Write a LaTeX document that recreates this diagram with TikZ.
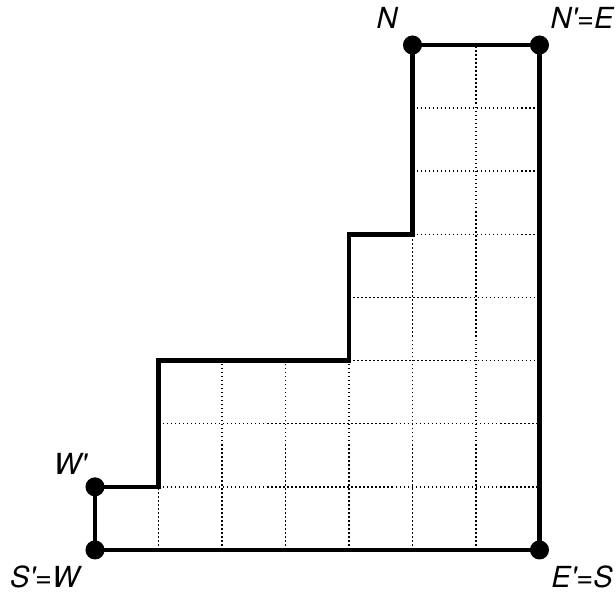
\documentclass[tikz,border=0pt]{standalone}
\usepackage{fontspec}
\setmainfont{TeX Gyre Heros}
\usepackage{tikz}

\begin{document}
\begin{tikzpicture}[
    dot/.style={circle, fill=black, inner sep=0pt, minimum size=0.3cm},
    boundary/.style={line width=2pt, line join=miter},
    cell/.style={dash pattern=on 0.7pt off 1.1pt, line width=0.7pt},
    lbl/.style={font=\fontsize{13}{15}\selectfont\itshape, inner sep=0pt}
]
    \useasboundingbox (-1.496,-0.693) rectangle (8.205,8.661);
    \begin{scope}[x=1.0cm, y=0.994cm]
    % corner points of the staircase
    \coordinate (c1) at (1,1);
    \coordinate (c2) at (1,3);
    \coordinate (c3) at (4,3);
    \coordinate (c4) at (4,5);
    \coordinate (c5) at (5,5);

    % dotted cells
    \draw[cell] (1,1) -- (7,1);
    \draw[cell] (1,2) -- (7,2);
    \draw[cell] (4,3) -- (7,3);
    \draw[cell] (4,4) -- (7,4);
    \draw[cell] (5,5) -- (7,5);
    \draw[cell] (5,6) -- (7,6);
    \draw[cell] (5,7) -- (7,7);
    \draw[cell] (1,0) -- (1,1);
    \draw[cell] (2,0) -- (2,3);
    \draw[cell] (3,0) -- (3,3);
    \draw[cell] (4,0) -- (4,3);
    \draw[cell] (5,0) -- (5,5);
    \draw[cell] (6,0) -- (6,8);

    \node[dot] (sw) at (0,0) {};
    \node[dot] (wp) at (0,1) {};
    \node[dot] (n) at (5,8) {};
    \node[dot] (ne) at (7,8) {};
    \node[dot] (es) at (7,0) {};

    \draw[boundary] (sw.center) -- (wp.center) -- (c1) -- (c2) -- (c3) -- (c4) -- (c5)
        -- (n.center) -- (ne.center) -- (es.center) -- cycle;

    \node[lbl] (lsw) at (-0.79,-0.42) {S\textquotesingle=W};
    \node[lbl] (lwp) at (-0.39,1.37) {W\textquotesingle};
    \node[lbl] (ln) at (4.60,8.43) {N};
    \node[lbl] (lne) at (7.67,8.43) {N\textquotesingle=E};
    \node[lbl] (les) at (7.67,-0.42) {E\textquotesingle=S};
    \end{scope}
\end{tikzpicture}
\end{document}
